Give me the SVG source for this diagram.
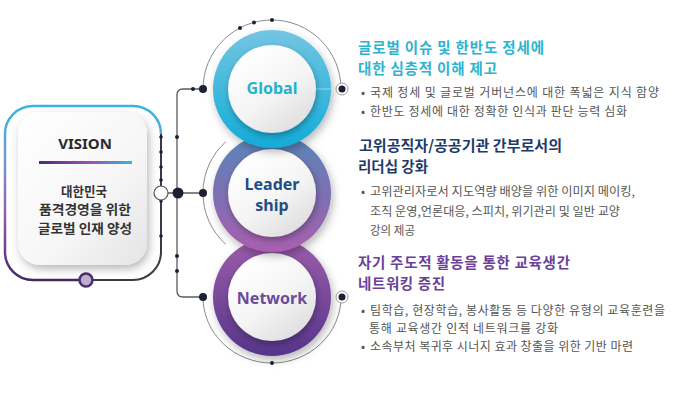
<svg xmlns="http://www.w3.org/2000/svg" width="680" height="414" viewBox="0 0 680 414">
<defs>
<linearGradient id="gFrame" gradientUnits="userSpaceOnUse" x1="0" y1="106" x2="0" y2="280">
<stop offset="0" stop-color="#36b6de"/><stop offset="0.3" stop-color="#6f9bd2"/><stop offset="0.6" stop-color="#9260b0"/><stop offset="0.85" stop-color="#6a3a90"/><stop offset="1" stop-color="#3e2862"/>
</linearGradient>
<linearGradient id="gLine" x1="0" y1="0" x2="1" y2="0">
<stop offset="0" stop-color="#4a2a80"/><stop offset="0.5" stop-color="#a04aa8"/><stop offset="1" stop-color="#2eb8e2"/>
</linearGradient>
<linearGradient id="gCard" x1="0" y1="0" x2="1" y2="1">
<stop offset="0" stop-color="#ffffff"/><stop offset="0.6" stop-color="#f6f6f6"/><stop offset="1" stop-color="#e4e4e4"/>
</linearGradient>
<linearGradient id="gInner" x1="0.2" y1="0.1" x2="0.8" y2="0.95">
<stop offset="0" stop-color="#ffffff"/><stop offset="0.55" stop-color="#f4f4f4"/><stop offset="1" stop-color="#dedede"/>
</linearGradient>
<linearGradient id="gGlobal" x1="0" y1="0" x2="0" y2="1">
<stop offset="0" stop-color="#74c5e2"/><stop offset="1" stop-color="#12acd7"/>
</linearGradient>
<linearGradient id="gLeader" x1="0" y1="0" x2="0" y2="1">
<stop offset="0" stop-color="#5a86ba"/><stop offset="0.5" stop-color="#7c70b2"/><stop offset="1" stop-color="#a95fae"/>
</linearGradient>
<linearGradient id="gNetwork" x1="0" y1="0" x2="0" y2="1">
<stop offset="0" stop-color="#9d5eab"/><stop offset="1" stop-color="#55358a"/>
</linearGradient>
<filter id="shadow" x="-30%" y="-30%" width="160%" height="160%">
<feDropShadow dx="2" dy="4" stdDeviation="4" flood-color="#000" flood-opacity="0.28"/>
</filter>
<filter id="ishadow" x="-30%" y="-30%" width="160%" height="160%">
<feDropShadow dx="1" dy="3" stdDeviation="3" flood-color="#000" flood-opacity="0.3"/>
</filter>
<style>
.wire{fill:none;stroke:#5a5a60;stroke-width:1.3}
.thin{fill:none;stroke:#8a8a8e;stroke-width:1}
.dot{fill:#1c2035}
.lbl{font-family:"Noto Sans","Liberation Sans",sans-serif;font-weight:700;text-anchor:middle}
.ko{font-family:"Noto Sans CJK KR","Noto Sans",sans-serif}
.hd{font-size:14.5px;font-weight:700}
.bl{font-size:12px;fill:#555}
</style>
</defs>
<rect width="680" height="414" fill="#ffffff"/>

<g id="connectors">
<path class="thin" d="M203,89 A69,69 0 0 1 341,89"/>
<path class="thin" d="M225.8,141.7 A69,69 0 0 0 225.8,244.3"/>
<path class="thin" d="M203,297 A69,66 0 0 0 341,297"/>
<circle class="dot" cx="240" cy="28" r="2"/>
<circle class="dot" cx="254" cy="22.5" r="2"/>
<circle class="dot" cx="272" cy="20" r="2"/>
<circle class="dot" cx="272" cy="363" r="2"/>
<path class="wire" d="M203,89 L183,89 Q177,89 177,95 L177,291 Q177,297 183,297 L203,297"/>
<path class="wire" d="M161,193 L203,193"/>
<circle class="dot" cx="193" cy="89" r="2"/>
<circle class="dot" cx="177" cy="137" r="2"/>
<circle class="dot" cx="177" cy="256" r="2"/>
<circle class="dot" cx="177" cy="271" r="2"/>
<circle class="dot" cx="178" cy="193" r="5.5"/>
<circle class="dot" cx="203" cy="89" r="4"/>
<circle class="dot" cx="203" cy="193" r="4"/>
<circle class="dot" cx="203" cy="297" r="4"/>
</g>

<g id="vision">
<path d="M161,134 A28,28 0 0 0 133,106 L33,106 A28,28 0 0 0 5,134 L5,252 A28,28 0 0 0 33,280 L86,280" fill="none" stroke="url(#gFrame)" stroke-width="2.5"/>
<path d="M86,280 L133,280 A28,28 0 0 0 161,252 L161,134" fill="none" stroke="#3a3a46" stroke-width="2"/>
<g class="dot">
<circle cx="161" cy="137" r="1.8"/><circle cx="161" cy="152" r="1.8"/><circle cx="161" cy="167" r="1.8"/><circle cx="161" cy="180" r="1.8"/><circle cx="161" cy="201" r="1.8"/><circle cx="161" cy="236" r="1.8"/>
</g>
<circle cx="161" cy="193" r="7" fill="#ffffff" stroke="#55555c" stroke-width="1.2"/>
<rect x="18" y="112" width="129" height="153" rx="22" fill="url(#gCard)" filter="url(#shadow)"/>
<text x="85" y="149" class="lbl" font-size="15" fill="#2a2a2a">VISION</text>
<rect x="39" y="161" width="93" height="3" fill="url(#gLine)"/>
<g class="ko" font-size="13" font-weight="700" fill="#333">
<text x="61" y="196" textLength="46" lengthAdjust="spacingAndGlyphs">대한민국</text>
<text x="39" y="214" textLength="92" lengthAdjust="spacingAndGlyphs">품격경영을 위한</text>
<text x="38" y="233" textLength="94" lengthAdjust="spacingAndGlyphs">글로벌 인재 양성</text>
</g>
<circle cx="86" cy="280" r="6.5" fill="#bdaccb" stroke="#4b2d6f" stroke-width="2.5"/>
</g>

<g id="network">
<circle cx="272" cy="297" r="59" fill="url(#gNetwork)" filter="url(#shadow)"/>
<circle cx="272" cy="297" r="44" fill="url(#gInner)" filter="url(#ishadow)"/>
<text x="272" y="304" class="lbl" font-size="16" fill="#6a4b9c">Network</text>
</g>

<g id="leadership">
<circle cx="272" cy="193" r="59" fill="url(#gLeader)" filter="url(#shadow)"/>
<circle cx="272" cy="193" r="44" fill="url(#gInner)" filter="url(#ishadow)"/>
<text x="272" y="190" class="lbl" font-size="16" fill="#1f4e85">Leader</text>
<text x="272" y="211" class="lbl" font-size="16" fill="#1f4e85">ship</text>
</g>

<g id="global">
<circle cx="272" cy="89" r="59" fill="url(#gGlobal)" filter="url(#shadow)"/>
<line x1="316" y1="89" x2="331" y2="89" stroke="#ffffff" stroke-opacity="0.45" stroke-width="1"/>
<circle cx="272" cy="89" r="44" fill="url(#gInner)" filter="url(#ishadow)"/>
<text x="272" y="94" class="lbl" font-size="16" fill="#27b0c9">Global</text>
</g>

<g id="end-dots">
<circle cx="342" cy="89" r="6" fill="#ffffff" stroke="#9a9a9e" stroke-width="1"/>
<circle cx="342" cy="89" r="3.5" class="dot"/>
<circle cx="342" cy="297" r="6" fill="#ffffff" stroke="#9a9a9e" stroke-width="1"/>
<circle cx="342" cy="297" r="3.5" class="dot"/>
</g>

<g id="text-global" class="ko">
<text x="358" y="53" class="hd" fill="#2db3cf" textLength="186" lengthAdjust="spacing">글로벌 이슈 및 한반도 정세에</text>
<text x="358" y="74" class="hd" fill="#2db3cf" textLength="139" lengthAdjust="spacing">대한 심층적 이해 제고</text>
<text x="361" y="97" class="bl">•</text>
<text x="370" y="97" class="bl" textLength="289" lengthAdjust="spacing">국제 정세 및 글로벌 거버넌스에 대한 폭넓은 지식 함양</text>
<text x="361" y="116" class="bl">•</text>
<text x="370" y="116" class="bl" textLength="257" lengthAdjust="spacing">한반도 정세에 대한 정확한 인식과 판단 능력 심화</text>
</g>

<g id="text-leadership" class="ko">
<text x="359" y="151" class="hd" fill="#1d3a6b" textLength="203" lengthAdjust="spacingAndGlyphs">고위공직자/공공기관 간부로서의</text>
<text x="358" y="172" class="hd" fill="#1d3a6b" textLength="70" lengthAdjust="spacingAndGlyphs">리더십 강화</text>
<text x="361" y="196" class="bl">•</text>
<text x="370" y="196" class="bl" textLength="265" lengthAdjust="spacingAndGlyphs">고위관리자로서 지도역량 배양을 위한 이미지 메이킹,</text>
<text x="370" y="216" class="bl" textLength="250" lengthAdjust="spacingAndGlyphs">조직 운영,언론대응, 스피치, 위기관리 및 일반 교양</text>
<text x="370" y="235" class="bl" textLength="45" lengthAdjust="spacingAndGlyphs">강의 제공</text>
</g>

<g id="text-network" class="ko">
<text x="358" y="268" class="hd" fill="#6a3f9a" textLength="212" lengthAdjust="spacing">자기 주도적 활동을 통한 교육생간</text>
<text x="358" y="289" class="hd" fill="#6a3f9a" textLength="87" lengthAdjust="spacing">네트워킹 증진</text>
<text x="361" y="315" class="bl">•</text>
<text x="370" y="315" class="bl" textLength="295" lengthAdjust="spacing">팀학습, 현장학습, 봉사활동 등 다양한 유형의 교육훈련을</text>
<text x="369" y="333" class="bl" textLength="189" lengthAdjust="spacing">통해 교육생간 인적 네트워크를 강화</text>
<text x="361" y="351" class="bl">•</text>
<text x="370" y="351" class="bl" textLength="263" lengthAdjust="spacing">소속부처 복귀후 시너지 효과 창출을 위한 기반 마련</text>
</g>
</svg>
